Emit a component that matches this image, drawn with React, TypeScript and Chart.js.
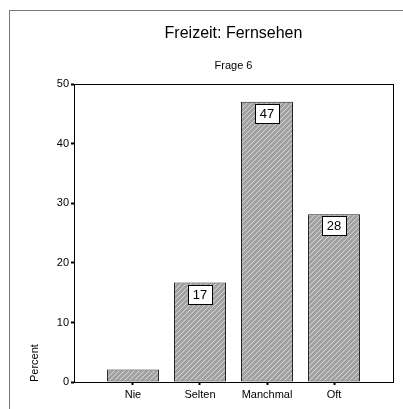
import React, { useEffect, useRef } from "react";
import { Chart, registerables } from "chart.js";

Chart.register(...registerables);

const categories = ["Nie", "Selten", "Manchmal", "Oft"];
const percentValues = [2.1, 16.7, 47.1, 28.2];
const yTicks = [0, 10, 20, 30, 40, 50];
const titleText = "Freizeit: Fernsehen";
const subtitleText = "Frage 6";
const yAxisTitle = "Percent";

function makeHatch(): CanvasPattern | string {
  const c = document.createElement("canvas");
  c.width = 5;
  c.height = 5;
  const ctx = c.getContext("2d");
  if (!ctx) return "#a0a0a0";
  ctx.fillStyle = "#a2a2a2";
  ctx.fillRect(0, 0, 5, 5);
  ctx.strokeStyle = "#d6d6d6";
  ctx.lineWidth = 1;
  ctx.beginPath();
  ctx.moveTo(-1, 6);
  ctx.lineTo(6, -1);
  ctx.stroke();
  const p = ctx.createPattern(c, "repeat");
  return p || "#a0a0a0";
}

const frameAndLabels = {
  id: "frameAndLabels",
  afterDatasetsDraw(chart: any) {
    const ctx = chart.ctx;
    const a = chart.chartArea;
    ctx.save();
    ctx.strokeStyle = "#000";
    ctx.lineWidth = 1;
    ctx.strokeRect(Math.round(a.left) + 0.5, Math.round(a.top) + 0.5, Math.round(a.right - a.left), Math.round(a.bottom - a.top));
    const meta = chart.getDatasetMeta(0);
    ctx.font = "13px 'Liberation Sans', Arial, sans-serif";
    ctx.textAlign = "center";
    ctx.textBaseline = "middle";
    meta.data.forEach((bar: any, i: number) => {
      const v = percentValues[i];
      if (v < 10) return;
      const w = 24;
      const h = 19;
      const x = Math.round(bar.x - w / 2) + 0.5;
      const y = Math.round(bar.y + 2) + 0.5;
      ctx.fillStyle = "#fff";
      ctx.fillRect(x, y, w, h);
      ctx.strokeStyle = "#000";
      ctx.strokeRect(x, y, w, h);
      ctx.fillStyle = "#000";
      ctx.fillText(String(Math.round(v)), bar.x, y + h / 2 + 0.5);
    });
    ctx.restore();
  },
};

export default function App() {
  const ref = useRef<HTMLCanvasElement | null>(null);
  useEffect(() => {
    if (!ref.current) return;
    const hatch = makeHatch();
    const font = { family: "'Liberation Sans', Arial, sans-serif", size: 11 };
    const chart = new Chart(ref.current, {
      type: "bar",
      data: {
        datasets: [
          {
            data: percentValues.map((v, i) => ({ x: i + 1, y: v })),
            backgroundColor: hatch as any,
            borderColor: "#222",
            borderWidth: 1,
            borderSkipped: false,
            barPercentage: 0.776,
            categoryPercentage: 1,
          },
        ],
      },
      options: {
        animation: false,
        responsive: false,
        devicePixelRatio: 1,
        layout: { padding: { left: 28, top: 24, right: 10, bottom: 0 } },
        plugins: {
          legend: { display: false },
          tooltip: { enabled: false },
          title: {
            display: true,
            text: titleText,
            fullSize: false,
            color: "#000",
            font: { family: font.family, size: 16, weight: "normal" },
            padding: { top: 0, bottom: 16 },
          },
          subtitle: {
            display: true,
            text: subtitleText,
            fullSize: false,
            color: "#000",
            font: { family: font.family, size: 11, weight: "normal" },
            padding: { top: 0, bottom: 12 },
          },
        },
        scales: {
          x: {
            type: "linear",
            min: 0.12,
            max: 4.88,
            offset: false,
            afterBuildTicks: (scale: any) => {
              scale.ticks = categories.map((_, i) => ({ value: i + 1 }));
            },
            afterFit: (scale: any) => {
              scale.height = 27;
            },
            ticks: {
              color: "#000",
              font,
              padding: 3,
              maxRotation: 0,
              autoSkip: false,
              callback: (v: any) => categories[Number(v) - 1] ?? "",
            },
            grid: {
              offset: false,
              drawOnChartArea: false,
              drawTicks: true,
              tickLength: 3,
              tickColor: "#000",
              tickWidth: 2,
            },
            border: { color: "#000", width: 1 },
          },
          y: {
            min: 0,
            max: 50,
            afterBuildTicks: (scale: any) => {
              scale.ticks = yTicks.map((v) => ({ value: v }));
            },
            afterFit: (scale: any) => {
              scale.width = 46;
            },
            ticks: { color: "#000", font, padding: 2 },
            title: {
              display: true,
              text: yAxisTitle,
              align: "start",
              color: "#000",
              font,
              padding: 0,
            },
            grid: {
              drawOnChartArea: false,
              drawTicks: true,
              tickLength: 3,
              tickColor: "#000",
              tickWidth: 2,
            },
            border: { color: "#000", width: 1 },
          },
        },
      },
      plugins: [frameAndLabels],
    } as any);
    return () => chart.destroy();
  }, []);
  return (
    <div style={{ position: "fixed", left: 0, top: 0, width: 403, height: 409, background: "#fff" }}>
      <div
        style={{
          position: "absolute",
          left: 9,
          top: 10,
          width: 400,
          height: 400,
          borderLeft: "1px solid #777",
          borderTop: "1px solid #777",
        }}
      />
      <canvas ref={ref} width={403} height={409} style={{ position: "absolute", left: 0, top: 0 }} />
    </div>
  );
}
